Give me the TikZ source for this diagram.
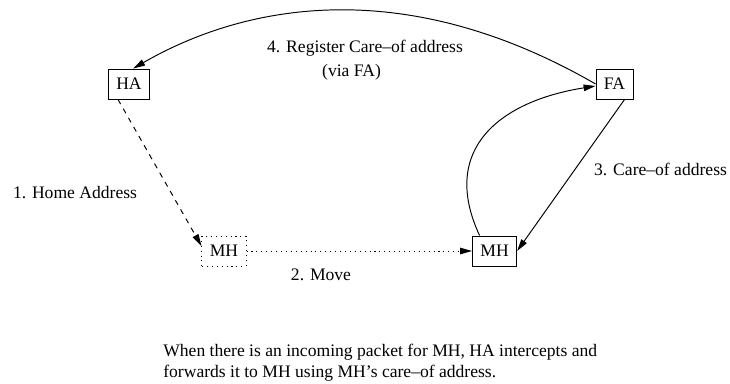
\documentclass[tikz,border=0pt]{standalone}
\usepackage{fontspec}
\setmainfont{Liberation Serif}
\usetikzlibrary{arrows.meta, positioning}

\begin{document}
\begin{tikzpicture}[
		>={Triangle[length=2.4mm,width=1.3mm]},
		agent/.style={draw, line width=0.55pt, minimum height=0.6cm, inner xsep=4.5pt, inner ysep=0pt},
		ghost/.style={agent, dash pattern=on 0.6pt off 2.2pt},
		link/.style={->, line width=0.55pt},
		lbl/.style={font=\fontsize{10}{13.5}\selectfont}
		]
		
		\useasboundingbox (0,0) rectangle (14.6,7.68);
		
		% ==========================================
		% AGENTS (Home / Foreign)
		% ==========================================
		\node[agent] (HA) at (2.58,6.0) {HA};
		\node[agent, right=8.91cm of HA] (FA) {FA};
		
		% ==========================================
		% MOBILE HOST (before and after the move)
		% ==========================================
		\node[ghost] (MHold) at (4.48,2.66) {MH};
		\node[agent, right=4.51cm of MHold] (MH) {MH};
		
		% ==========================================
		% MESSAGES
		% ==========================================
		\draw[link, dash pattern=on 3pt off 3pt] ([xshift=-0.22cm]HA.south) -- ([yshift=0.1cm]MHold.west);
		\draw[link, dash pattern=on 0.6pt off 2.2pt] (MHold) -- (MH);
		\draw[link] ([xshift=0.2cm]FA.south) -- (MH.east);
		\draw[link] ([xshift=-0.3cm]MH.north) to[out=115, in=189, looseness=1.3] ([yshift=-0.04cm]FA.west);
		\draw[link] (FA.west) .. controls +(150:4.5cm) and +(30:2.5cm) .. (HA.75);
		
		% Step labels
		\node[lbl] (home) at (1.5,3.82) {1. Home Address};
		\node[lbl] (move) at (6.42,2.18) {2. Move};
		\node[lbl, anchor=west] (coa) at (11.76,4.3) {3. Care--of address};
		\node[lbl, anchor=west, align=left] (reg) at (5.22,6.48) {4. Register Care--of address\\\hspace*{1.1cm}(via FA)};
		
		% ==========================================
		% NOTE
		% ==========================================
		\node[anchor=west, align=left, inner sep=0pt, font=\fontsize{10}{12}\selectfont] (note) at (3.26,0.43) {
			When there is an incoming packet for MH, HA intercepts and\\
			forwards it to MH using MH's care--of address.
		};
		
	\end{tikzpicture}
\end{document}
